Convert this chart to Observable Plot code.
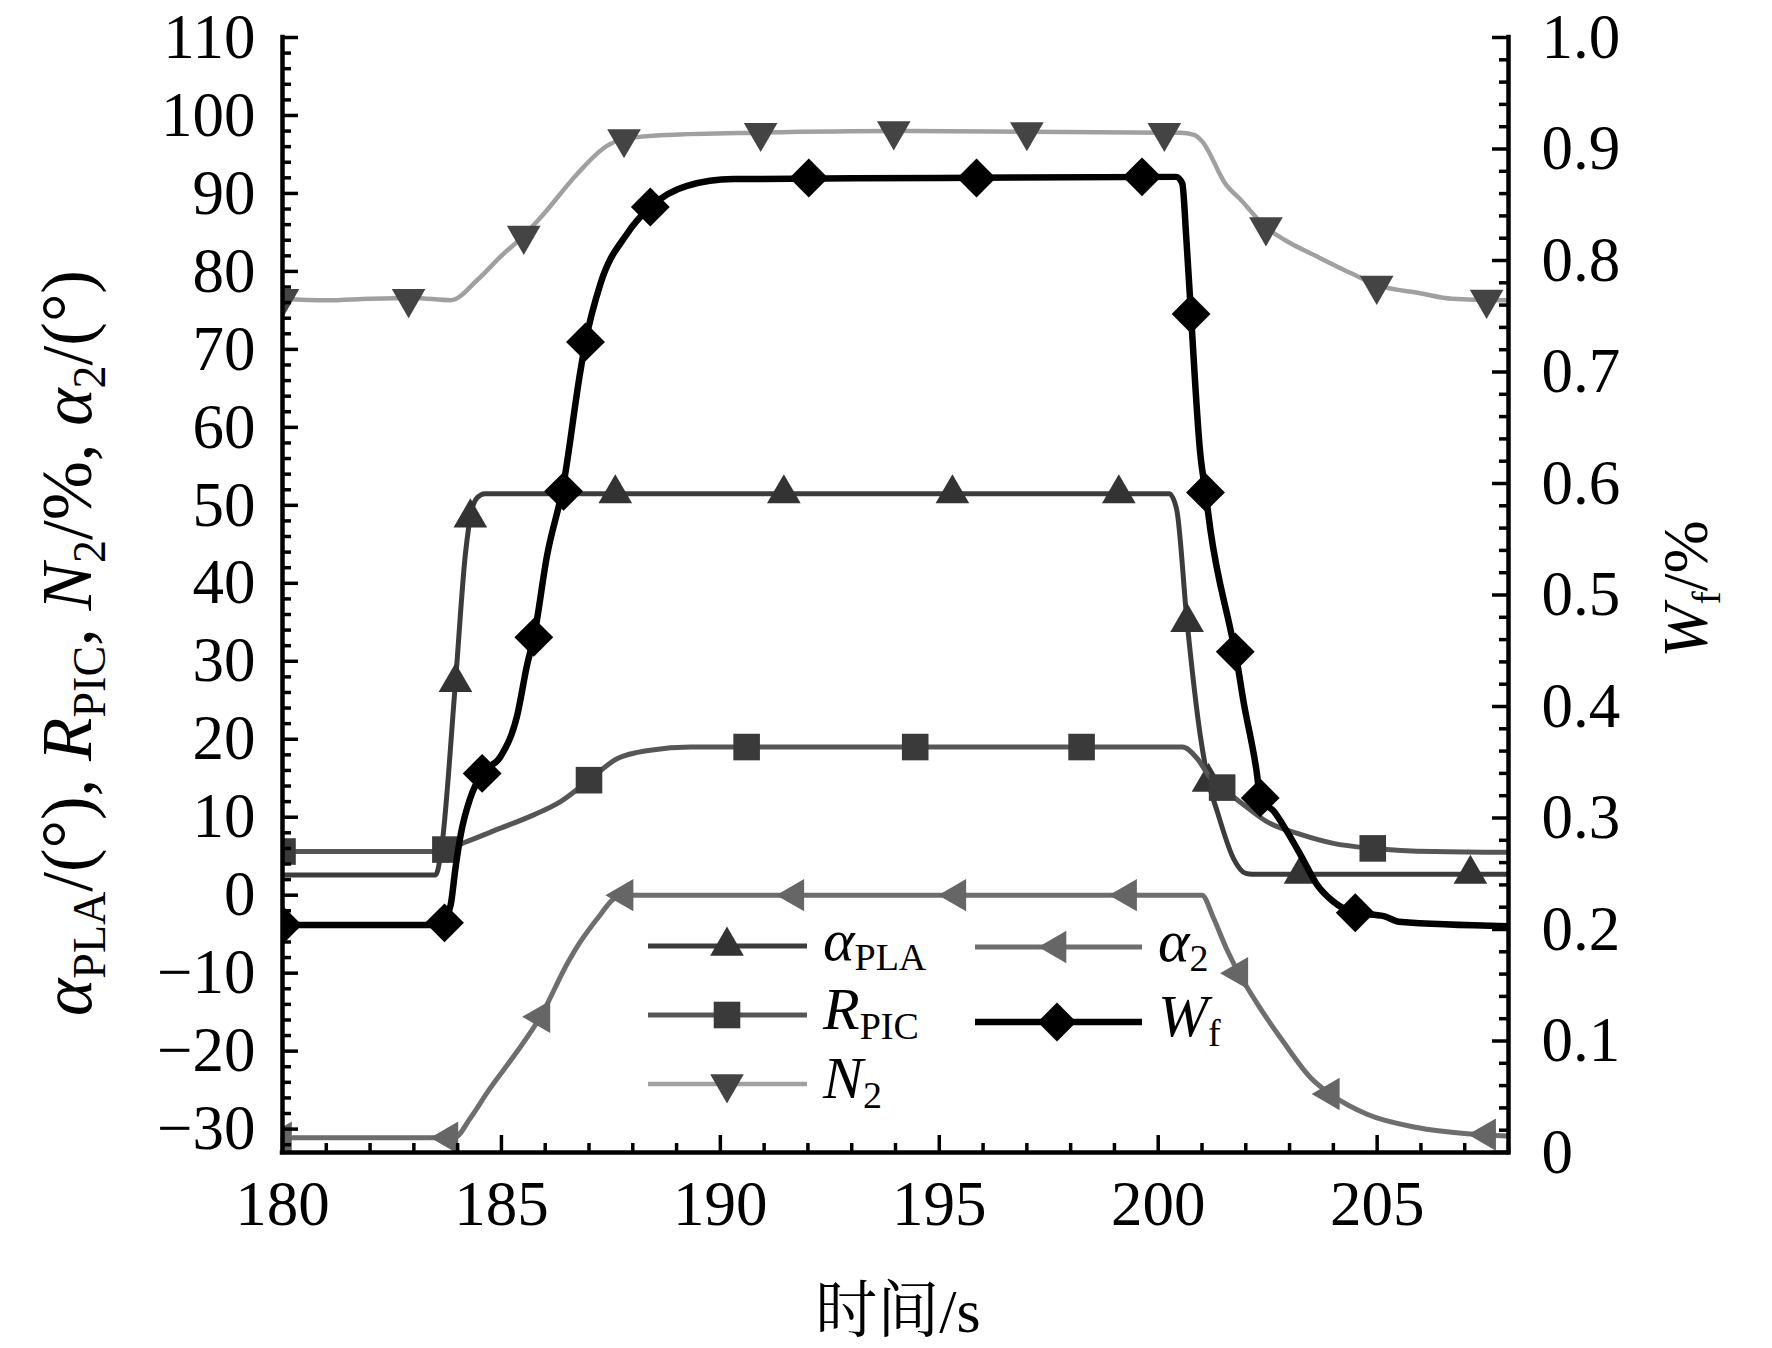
<!DOCTYPE html>
<html>
<head>
<meta charset="utf-8">
<script src="https://cdn.jsdelivr.net/npm/d3@7"></script>
<script src="https://cdn.jsdelivr.net/npm/@observablehq/plot@0.6"></script>
<style>
  html, body { margin: 0; padding: 0; background: #fff; }
  #chart { width: 1772px; height: 1348px; }
</style>
</head>
<body>
<div id="chart"></div>
<script>
// ---------- data (time in s; left-axis units, W_f in %) ----------
const xDomain = [180, 208];
const yDomain = [-33, 110];
const wDomain = [0, 1];

const xMajor = [180, 185, 190, 195, 200, 205];
const xMinor = d3.range(181, 209, 1).filter(d => d % 5 !== 0);
const yMajor = d3.range(-30, 111, 10);
const yMinor = d3.range(-32, 111, 2).filter(d => d % 10 !== 0);
const wMajor = [0, 0.1, 0.2, 0.3, 0.4, 0.5, 0.6, 0.7, 0.8, 0.9, 1.0];
const wMajorLabels = ["0", "0.1", "0.2", "0.3", "0.4", "0.5", "0.6", "0.7", "0.8", "0.9", "1.0"];
const wMinor = d3.range(1, 50).map(i => i * 0.02).filter((d, i) => (i + 1) % 5 !== 0);

const alphaPLA = [[180,2.6],[183.5,2.6],[183.62,5.5],[183.95,27.3],[184.18,43.9],[184.32,49.3],[184.45,51.0],[184.62,51.5],
  [200.25,51.5],[200.42,49.5],[200.66,35],[200.96,20.5],[201.15,14.5],[201.35,10.7],[201.72,4.7],[202.0,2.8],[202.15,2.7],[208,2.7]];
const alphaPLAMarks = [[183.95,27.3],[184.29,48.4],[187.6,51.5],[191.45,51.5],[195.3,51.5],[199.1,51.5],[200.66,35],[201.15,14.5],[203.25,2.7],[207.13,2.7]];

const rPIC = [[180,5.6],[183.45,5.6],[183.72,5.85],[184.22,6.9],[184.98,8.6],[185.74,10.3],[186.35,12.0],[187.0,14.75],[187.64,17.5],[188.4,18.6],[189.32,19.0],
  [200.55,19.0],[200.88,17.6],[201.2,15.0],[201.46,13.8],[201.95,11.6],[202.49,9.4],[203.25,7.8],[204.0,6.65],[204.92,6.0],[206.3,5.6],[208,5.5]];
const rPICMarks = [[180,5.6],[183.72,5.85],[187.0,14.75],[190.6,19.0],[194.45,19.0],[198.25,19.0],[201.46,13.8],[204.9,6.0]];

const n2 = [[180,76.5],[181,76.3],[182,76.5],[183,76.6],[183.84,76.3],[184.45,78.9],[184.98,81.9],[185.51,84.6],[185.97,87.4],[186.73,92.5],[187.41,96.1],[187.83,97.0],[188.78,97.5],[190.9,97.8],[194,98.0],[197,97.9],[200.2,97.8],[200.5,97.8],
  [200.82,97.5],[201.0,96.7],[201.54,91.2],[201.9,89.1],[202.45,85.7],[202.9,84.0],[203.63,81.9],[204.43,79.7],[205.03,78.2],[205.98,77.2],[206.71,76.5],[208,76.3]];
const n2Marks = [[180,76.5],[182.88,76.5],[185.51,84.6],[187.8,97.0],[190.92,97.8],[193.96,98.0],[197.0,97.9],[200.14,97.8],[202.46,85.7],[204.99,78.2],[207.5,76.4]];

const alpha2 = [[180,-31.1],[183.92,-31.1],[184.3,-28.5],[184.7,-25.1],[185.3,-20.5],[185.88,-15.7],[186.53,-8.5],[186.8,-6.0],[187.26,-2.5],[187.56,-0.5],[187.85,0],
  [201.0,0],[201.26,-2.9],[201.57,-7.0],[201.84,-10.0],[202.25,-13.8],[202.87,-18.9],[203.48,-23.4],[203.93,-25.5],[204.77,-28.1],[205.91,-29.8],[207.05,-30.6],[208,-30.9]];
const alpha2Marks = [[180,-31.1],[183.8,-31.1],[185.9,-15.6],[187.8,0],[191.7,0],[195.4,0],[199.3,0],[201.84,-10.0],[203.93,-25.5],[207.5,-30.7]];

const wf = [[180,0.204],[183.5,0.204],[183.65,0.206],[183.84,0.222],[183.95,0.255],[184.07,0.285],[184.29,0.318],[184.56,0.340],[184.98,0.355],[185.36,0.392],[185.59,0.438],[185.74,0.462],[186.04,0.535],[186.42,0.600],[186.8,0.700],[186.92,0.727],[187.26,0.779],[187.87,0.824],[188.4,0.848],[189.24,0.867],[190.3,0.873],[195,0.874],[200.41,0.875],
  [200.55,0.869],[200.64,0.821],[200.73,0.764],[200.96,0.627],[201.08,0.592],[201.19,0.559],[201.65,0.469],[201.76,0.449],[201.95,0.404],[202.25,0.341],[202.33,0.318],[202.64,0.306],[202.94,0.288],[203.25,0.267],[203.63,0.240],[204.0,0.225],[204.5,0.215],[205.15,0.212],[205.5,0.207],[208,0.203]];
const wfMarks = [[180,0.204],[183.7,0.206],[184.56,0.340],[185.74,0.462],[186.42,0.593],[186.92,0.727],[188.4,0.848],[192.02,0.874],[195.85,0.874],[199.63,0.875],[200.75,0.752],[201.08,0.592],[201.76,0.449],[202.33,0.318],[204.5,0.215]];

// ---------- layout ----------
const W = 1772, H = 1348;
const mL = 282, mR = 264, mT = 37, mB = 196;
const frameW = W - mL - mR, frameH = H - mT - mB;
const SERIF = "'Liberation Serif', 'Times New Roman', serif";

// right axis (W_f) mapped onto the left scale
const toLeft = w => yDomain[0] + (w - wDomain[0]) / (wDomain[1] - wDomain[0]) * (yDomain[1] - yDomain[0]);
const wLabel = v => {
  const w = (v - yDomain[0]) / (yDomain[1] - yDomain[0]);
  const i = wMajor.findIndex(t => Math.abs(t - w) < 1e-6);
  return i >= 0 ? wMajorLabels[i] : "";
};
const fmtY = d => d < 0 ? "\u2212" + Math.abs(d) : String(d);

const X = d => d[0], Y = d => d[1], YW = d => toLeft(d[1]);
const curve = "monotone-x";

const series = [
  {data: n2, marks: n2Marks, y: Y, stroke: "#a0a0a0", sw: 4.5, symbol: "triangle", rotate: 180, fill: "#444", r: 12.5},
  {data: alpha2, marks: alpha2Marks, y: Y, stroke: "#6e6e6e", sw: 5, symbol: "triangle", rotate: -90, fill: "#666", r: 12},
  {data: alphaPLA, marks: alphaPLAMarks, y: Y, stroke: "#3c3c3c", sw: 5, symbol: "triangle", rotate: 0, fill: "#333", r: 12.5},
  {data: rPIC, marks: rPICMarks, y: Y, stroke: "#565656", sw: 5, symbol: "square", rotate: 0, fill: "#3a3a3a", r: 15},
  {data: wf, marks: wfMarks, y: YW, stroke: "#000", sw: 6.5, symbol: "square", rotate: 45, fill: "#000", r: 15.5}
];

const seriesMarks = series.flatMap(s => [
  Plot.line(s.data, {x: X, y: s.y, stroke: s.stroke, strokeWidth: s.sw, curve, clip: true, strokeLinejoin: "round"}),
  Plot.dot(s.marks, {x: X, y: s.y, symbol: s.symbol, r: s.r, rotate: s.rotate, fill: s.fill, stroke: "none", clip: true})
]);

const chart = Plot.plot({
  width: W, height: H,
  marginLeft: mL, marginRight: mR, marginTop: mT, marginBottom: mB,
  x: {domain: xDomain, label: null},
  y: {domain: yDomain, label: null},
  style: {fontFamily: SERIF, fontSize: "63px", background: "#fff", color: "#000"},
  marks: [
    ...seriesMarks,
    // inward ticks
    Plot.tickX(xMajor, {x: d => d, insetTop: frameH - 17, stroke: "#000", strokeWidth: 3.5}),
    Plot.tickX(xMinor, {x: d => d, insetTop: frameH - 9, stroke: "#000", strokeWidth: 3.5}),
    Plot.tickY(yMajor, {y: d => d, insetRight: frameW - 16, stroke: "#000", strokeWidth: 3.5}),
    Plot.tickY(yMinor, {y: d => d, insetRight: frameW - 9, stroke: "#000", strokeWidth: 3.5}),
    Plot.tickY(wMajor.map(toLeft), {y: d => d, insetLeft: frameW - 16, stroke: "#000", strokeWidth: 3.5}),
    Plot.tickY(wMinor.map(toLeft), {y: d => d, insetLeft: frameW - 9, stroke: "#000", strokeWidth: 3.5}),
    // axis lines (no top line)
    Plot.ruleX(xDomain, {stroke: "#000", strokeWidth: 4.5, strokeLinecap: "square"}),
    Plot.ruleY([yDomain[0]], {stroke: "#000", strokeWidth: 4.5, strokeLinecap: "square"}),
    // tick labels
    Plot.axisX({ticks: xMajor, tickSize: 0, tickPadding: 28, tickFormat: d => String(d), fontSize: 63, label: null}),
    Plot.axisY({ticks: yMajor, tickSize: 0, tickPadding: 27, tickFormat: fmtY, fontSize: 63, label: null}),
    Plot.axisY({anchor: "right", ticks: wMajor.map(toLeft), tickSize: 0, tickPadding: 33, tickFormat: wLabel, fontSize: 63, label: null})
  ]
});

document.getElementById("chart").appendChild(chart);

// ---------- rich text: axis titles & legend ----------
const svg = d3.select(chart);

function rich(textSel, parts, size, subSize, subShift) {
  let shifted = false;
  parts.forEach(p => {
    const ts = textSel.append("tspan").text(p.t).attr("font-size", p.sub ? subSize : size);
    if (p.i) ts.attr("font-style", "italic");
    if (p.sub && !shifted) { ts.attr("dy", subShift); shifted = true; }
    else if (!p.sub && shifted) { ts.attr("dy", -subShift); shifted = false; }
  });
}

const leftTitle = [
  {t: "α", i: true}, {t: "PLA", sub: true}, {t: "/(°), "},
  {t: "R", i: true}, {t: "PIC", sub: true}, {t: ", "},
  {t: "N", i: true}, {t: "2", sub: true}, {t: "/%, "},
  {t: "α", i: true}, {t: "2", sub: true}, {t: "/(°)"}
];
const lt = svg.append("text")
  .attr("transform", "translate(91,643) rotate(-90)")
  .attr("text-anchor", "middle").attr("font-family", SERIF).attr("fill", "#000");
rich(lt, leftTitle, 71, 46, 14);

const rt = svg.append("text")
  .attr("transform", "translate(1707,589) rotate(-90)")
  .attr("text-anchor", "middle").attr("font-family", SERIF).attr("fill", "#000");
rich(rt, [{t: "W", i: true}, {t: "f", sub: true}, {t: "/%"}], 64, 40, 13);

svg.append("text")
  .attr("x", 898).attr("y", 1332)
  .attr("text-anchor", "middle")
  .attr("font-family", "'Liberation Serif', 'Noto Serif CJK SC', 'Noto Sans CJK SC', serif")
  .attr("font-size", 62).attr("fill", "#000")
  .text("时间/s");

// legend
const legendItems = [
  {col: 0, row: 0, s: series[2], parts: [{t: "α", i: true}, {t: "PLA", sub: true}]},
  {col: 0, row: 1, s: series[3], parts: [{t: "R", i: true}, {t: "PIC", sub: true}]},
  {col: 0, row: 2, s: series[0], parts: [{t: "N", i: true}, {t: "2", sub: true}]},
  {col: 1, row: 0, s: series[1], parts: [{t: "α", i: true}, {t: "2", sub: true}]},
  {col: 1, row: 1, s: series[4], parts: [{t: "W", i: true}, {t: "f", sub: true}]}
];
const colX = [{x0: 648, x1: 807, xm: 727, xt: 823}, {x0: 975, x1: 1142, xm: 1057, xt: 1158}];
const rowY = [[946, 1015, 1084], [947, 1022]];
const symbolMap = {triangle: d3.symbolTriangle, square: d3.symbolSquare};
const lg = svg.append("g");
legendItems.forEach(it => {
  const c = colX[it.col], y = rowY[it.col][it.row];
  lg.append("line").attr("x1", c.x0).attr("x2", c.x1).attr("y1", y).attr("y2", y)
    .attr("stroke", it.s.stroke).attr("stroke-width", it.s.sw);
  lg.append("path")
    .attr("d", d3.symbol(symbolMap[it.s.symbol], it.s.r * it.s.r * Math.PI)())
    .attr("transform", `translate(${c.xm},${y}) rotate(${it.s.rotate})`)
    .attr("fill", it.s.fill);
  const t = lg.append("text").attr("x", c.xt).attr("y", y + 14)
    .attr("text-anchor", "start")
    .attr("font-family", SERIF).attr("fill", "#000");
  rich(t, it.parts, 60, 38, 10);
});
</script>
</body>
</html>
